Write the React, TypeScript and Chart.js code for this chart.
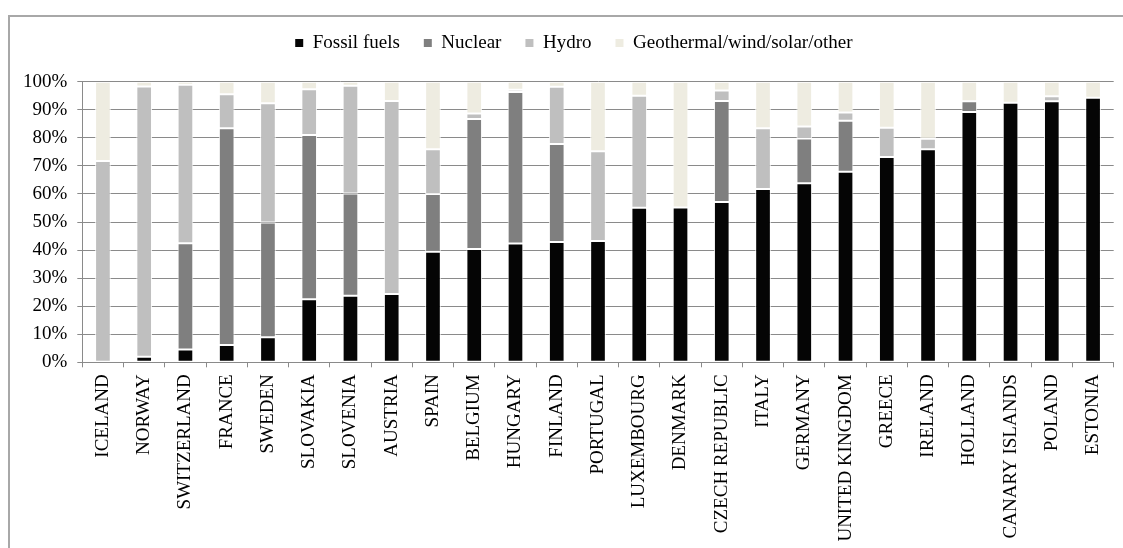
import React, { useEffect, useRef } from "react";
import { Chart, registerables } from "chart.js";

Chart.register(...registerables);

const categories = [
  "ICELAND", "NORWAY", "SWITZERLAND", "FRANCE", "SWEDEN", "SLOVAKIA", "SLOVENIA",
  "AUSTRIA", "SPAIN", "BELGIUM", "HUNGARY", "FINLAND", "PORTUGAL", "LUXEMBOURG",
  "DENMARK", "CZECH REPUBLIC", "ITALY", "GERMANY", "UNITED KINGDOM", "GREECE",
  "IRELAND", "HOLLAND", "CANARY ISLANDS", "POLAND", "ESTONIA",
];

const fossilFuels = [0, 2.0, 4.6, 6.2, 8.9, 22.5, 23.7, 24.3, 39.4, 40.4, 42.3, 42.9, 43.2, 55.1, 55.2, 57.1, 61.8, 63.8, 67.9, 73.2, 75.9, 89.2, 92.5, 93.0, 94.3];
const nuclear = [0, 0, 37.8, 77.2, 40.9, 58.5, 36.5, 0, 20.6, 46.3, 54.0, 34.9, 0, 0, 0, 36.0, 0, 16.0, 18.2, 0, 0, 3.8, 0, 0, 0];
const hydro = [71.7, 96.3, 56.5, 12.1, 42.5, 16.3, 38.4, 68.8, 15.9, 2.0, 0.8, 20.4, 32.0, 39.9, 0, 3.8, 21.6, 4.2, 2.9, 10.4, 3.8, 0, 0, 1.8, 0];
const otherRenewables = [28.3, 1.7, 1.1, 4.5, 7.7, 2.7, 1.4, 6.9, 24.1, 11.3, 2.9, 1.8, 24.8, 5.0, 44.8, 3.1, 16.6, 16.0, 11.0, 16.4, 20.3, 7.0, 7.5, 5.2, 5.7];

const seriesLabels = ["Fossil fuels", "Nuclear", "Hydro", "Geothermal/wind/solar/other"];
const seriesColors = ["#050505", "#7f7f7f", "#bfbfbf", "#eeece1"];

const yMin = 0;
const yMax = 100;
const yStep = 10;

const FONT = "'Liberation Serif', 'Times New Roman', serif";
const GRID = "#8a8a8a";

export default function App() {
  const ref = useRef<HTMLCanvasElement | null>(null);

  useEffect(() => {
    if (!ref.current) return;
    const values = [fossilFuels, nuclear, hydro, otherRenewables];
    const legendFixPlugin = {
      id: "legendFix",
      beforeUpdate(chart: any) {
        const lg = chart.legend;
        if (lg && !lg.__patched) {
          const orig = lg.fit.bind(lg);
          lg.fit = () => {
            orig();
            lg.height = 72.2;
          };
          lg.__patched = true;
        }
      },
      afterLayout(chart: any) {
        const lg = chart.legend;
        if (lg) lg.left += 31;
      },
    };
    const chart = new Chart(ref.current, {
      type: "bar",
      data: {
        labels: categories,
        datasets: seriesLabels.map((label, i) => ({
          label,
          data: values[i],
          backgroundColor: seriesColors[i],
          borderColor: "rgba(255,255,255,0.85)",
          borderWidth: 1,
          borderSkipped: false,
          categoryPercentage: 1,
          barPercentage: 0.38,
        })),
      },
      options: {
        responsive: false,
        animation: false,
        layout: { padding: { top: 9.5, left: 0, right: 6.3, bottom: 0 } },
        plugins: {
          tooltip: { enabled: false },
          legend: {
            position: "top",
            align: "center",
            labels: {
              boxWidth: 8,
              boxHeight: 8,
              padding: 24,
              color: "#000",
              font: { family: FONT, size: 19 },
              generateLabels: (c: any) =>
                (Chart.defaults.plugins.legend.labels as any)
                  .generateLabels(c)
                  .map((l: any) => ({ ...l, lineWidth: 0 })),
            },
          },
        },
        scales: {
          x: {
            stacked: true,
            afterFit: (s: any) => {
              s.height = 185.7;
            },
            grid: {
              offset: true,
              drawOnChartArea: false,
              drawTicks: true,
              tickLength: 5,
              color: GRID,
            },
            border: { color: GRID },
            ticks: {
              autoSkip: false,
              minRotation: 90,
              maxRotation: 90,
              padding: 7,
              color: "#000",
              font: { family: FONT, size: 19 },
            },
          },
          y: {
            stacked: true,
            min: yMin,
            max: yMax,
            afterFit: (s: any) => {
              s.width = 82.3;
            },
            grid: { color: GRID, tickLength: 5, drawTicks: true },
            border: { color: GRID },
            ticks: {
              stepSize: yStep,
              padding: 10,
              color: "#000",
              font: { family: FONT, size: 19 },
              callback: (v: any) => `${v}%`,
            },
          },
        },
      },
      plugins: [legendFixPlugin],
    } as any);
    return () => chart.destroy();
  }, []);

  return (
    <div style={{ position: "fixed", left: 0, top: 0, width: 1123, height: 548, background: "#fff", overflow: "hidden" }}>
      <div
        style={{
          position: "absolute",
          left: 8,
          top: 15,
          width: 1200,
          height: 600,
          borderLeft: "2px solid #a8a8a8",
          borderTop: "2px solid #a8a8a8",
          boxSizing: "border-box",
        }}
      />
      <canvas ref={ref} width={1123} height={548} style={{ position: "absolute", left: 0, top: 0, display: "block" }} />
    </div>
  );
}
